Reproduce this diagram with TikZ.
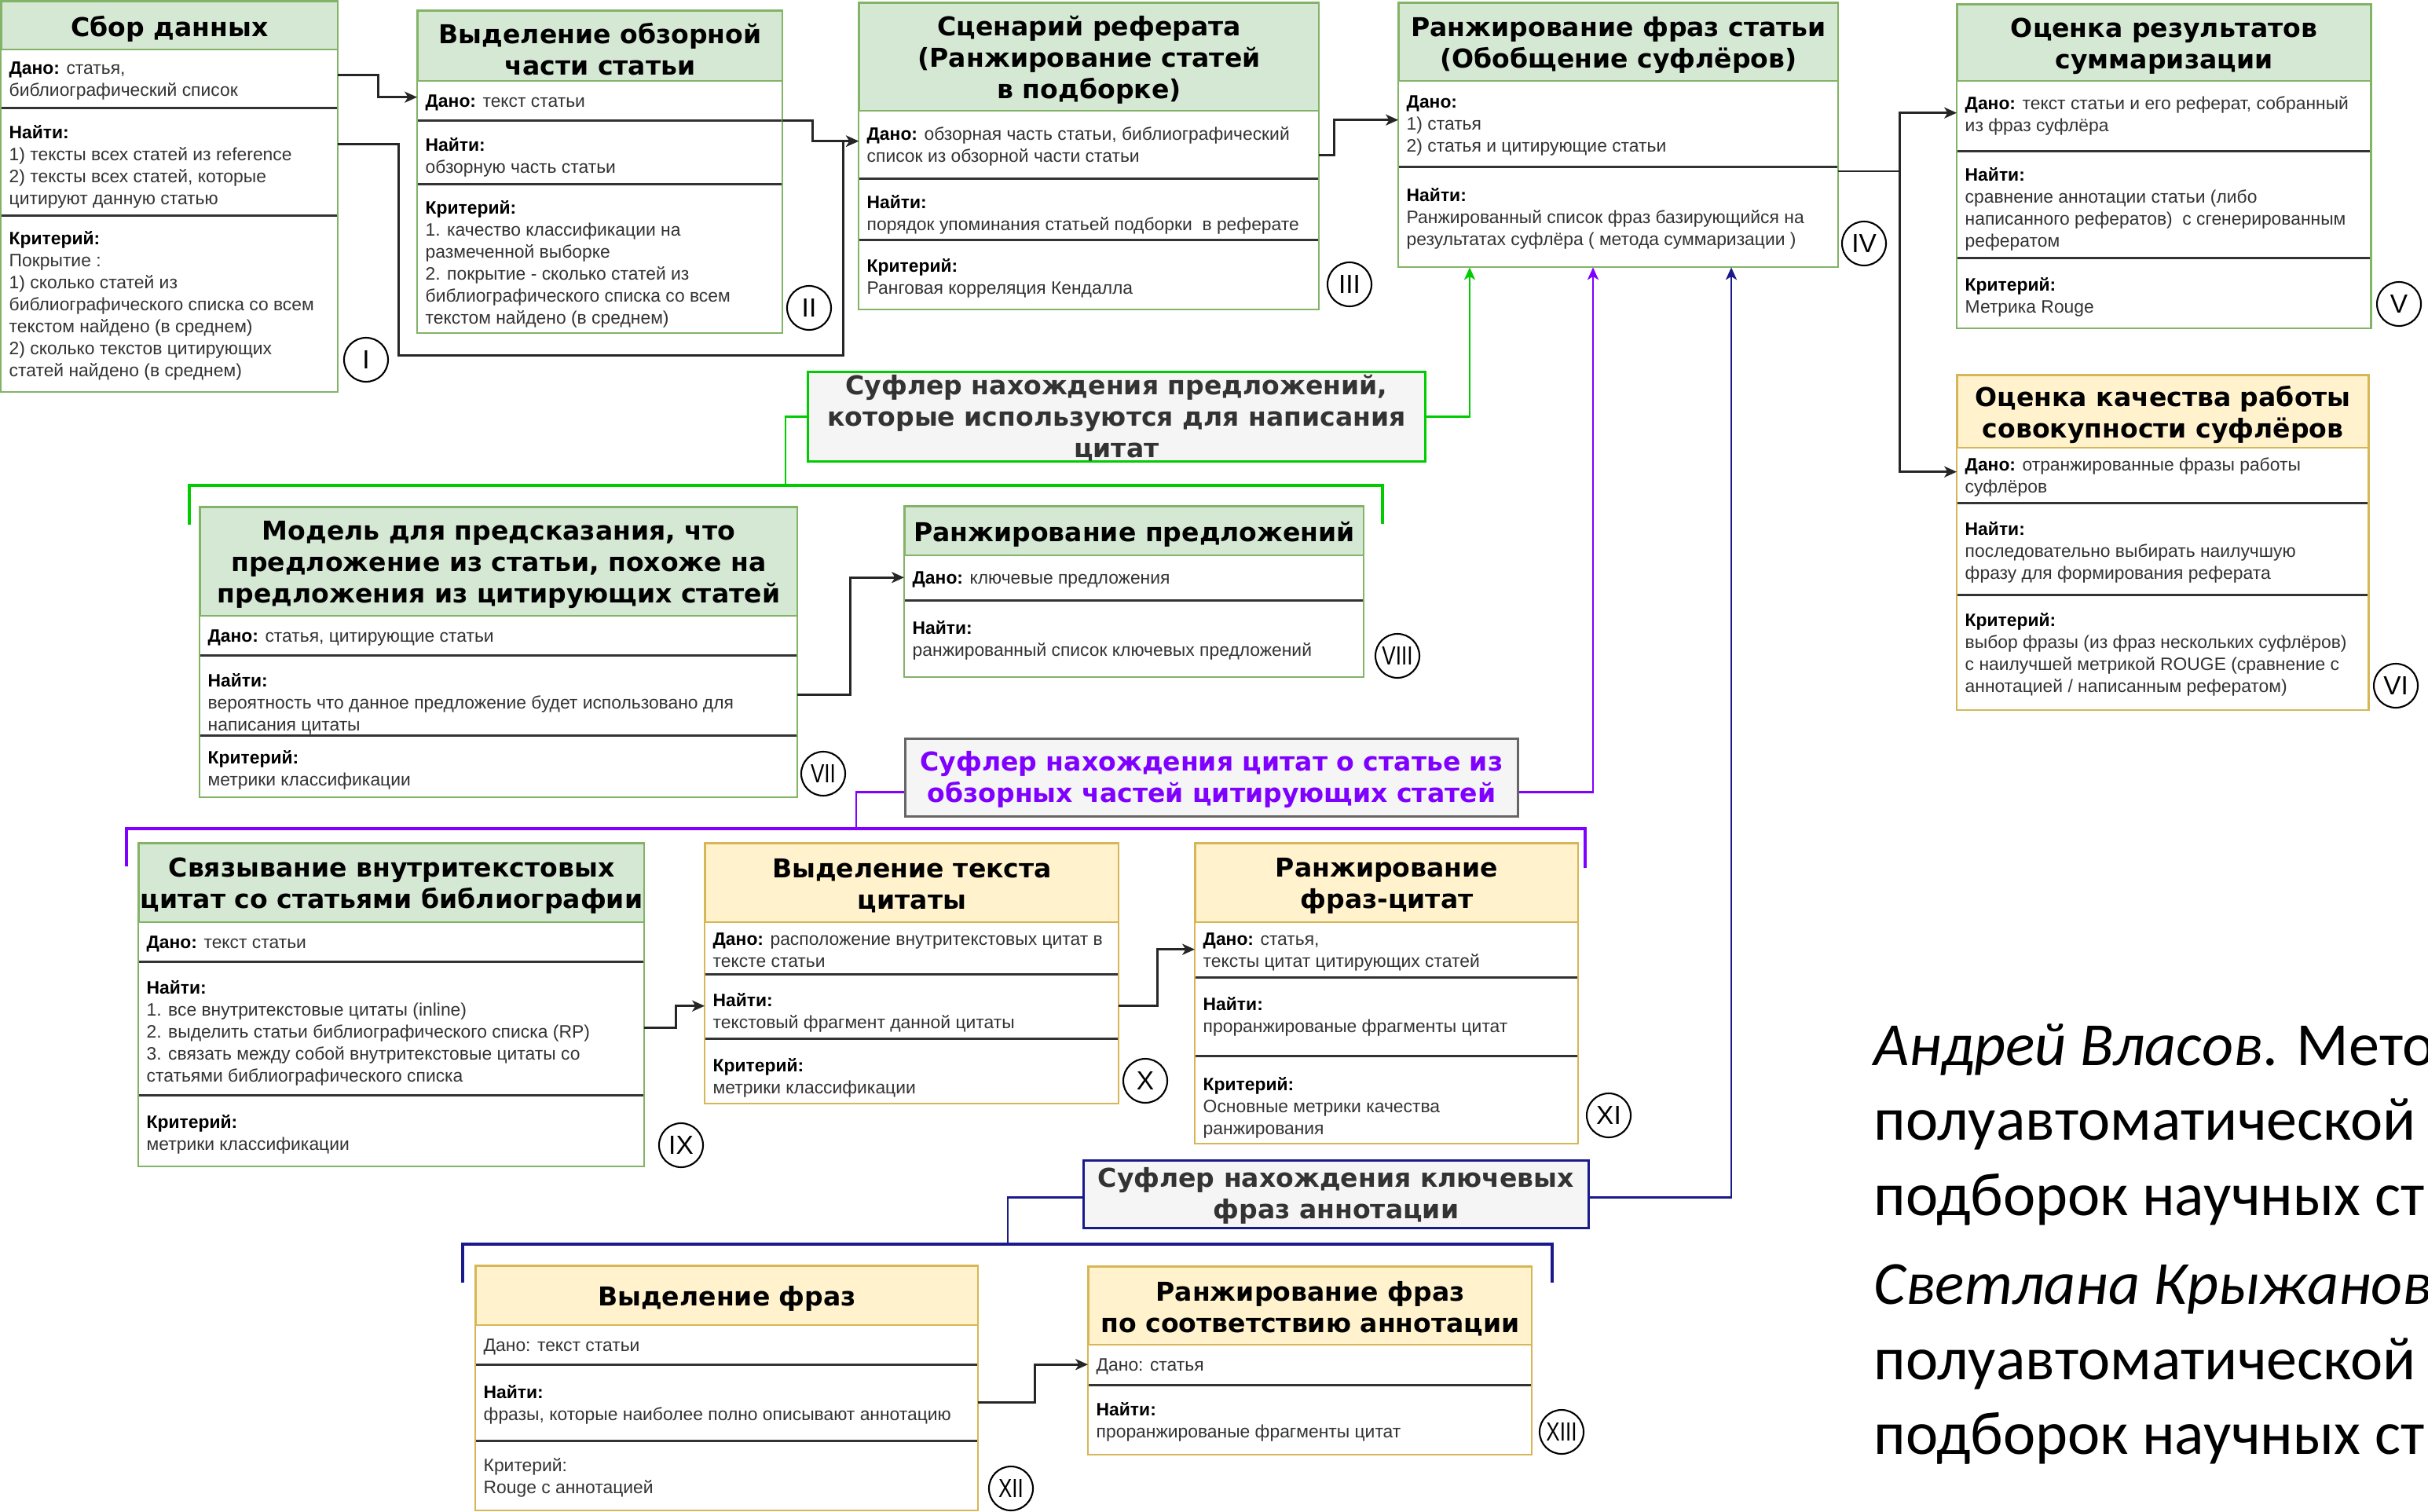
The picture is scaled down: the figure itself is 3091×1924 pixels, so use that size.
\documentclass[tikz,border=0pt]{standalone}
\usepackage{fontspec}
\usepackage{graphicx}
\setmainfont{Liberation Sans}
\newfontfamily\titlefont{DejaVu Sans}
\newfontfamily\notefont{Carlito}
\usetikzlibrary{arrows.meta}

\definecolor{grfill}{HTML}{D5E8D4}
\definecolor{grline}{HTML}{82B366}
\definecolor{yefill}{HTML}{FFF2CC}
\definecolor{yeline}{HTML}{D6B656}
\definecolor{bodygray}{HTML}{333333}
\definecolor{sfill}{HTML}{F5F5F5}
\definecolor{sline}{HTML}{666666}
\definecolor{linkgreen}{HTML}{00CC00}
\definecolor{linkpurple}{HTML}{7F00FF}
\definecolor{linknavy}{HTML}{1A1A8C}

% one drawing unit is 0.01cm
\newcommand\pxu{0.01cm}
\newcommand\lb[1]{{\bfseries\color{black}#1}}

% header strip of a card: name, style, x, y, width, height, title
\newcommand\cardhead[7]{%
  \node[#2, anchor=north west, minimum width=#5*\pxu, minimum height=#6*\pxu] (#1) at (#3,#4) {};
  \node[titletext] (#1t) at ([yshift=-4*\pxu]#1.center) {#7};}
% one section of a card: name, x, y, width, height, vertical text offset, text
\newcommand\cardsec[7]{%
  \node[secbox, anchor=north west, minimum width=#4*\pxu, minimum height=#5*\pxu] (#1) at (#2,#3) {};
  \node[bodytext, anchor=west] (#1t) at ([xshift=10*\pxu, yshift={-(#6+3)*\pxu}]#1.west) {#7};}
\newcommand\sepunder[1]{\draw[sepline] (#1.south west) -- (#1.south east);}
\newcommand\cardframe[3]{\draw[draw=#1, line width=0.6pt] (#2.north west) rectangle (#3.south east);}
\newcommand\narrow[1]{\makebox[0pt]{\scalebox{0.78}[1]{#1}}}

\tikzset{
  hdrG/.style={draw=grline, fill=grfill, line width=0.6pt, inner sep=0pt},
  hdrY/.style={draw=yeline, fill=yefill, line width=0.6pt, inner sep=0pt},
  secbox/.style={fill=white, inner sep=0pt},
  titletext/.style={font=\titlefont\bfseries\fontsize{9.4pt}{11.4pt}\selectfont, align=center, inner sep=0pt, text=black},
  bodytext/.style={font=\fontsize{6.5pt}{7.95pt}\selectfont, align=left, inner sep=0pt, text=bodygray},
  sepline/.style={draw=black!80, line width=0.8pt},
  sbox/.style={fill=sfill, line width=0.8pt, inner sep=0pt, anchor=north west},
  numc/.style={circle, draw=black, line width=0.6pt, fill=white, minimum size=56*\pxu, inner sep=0pt, font=\fontsize{9.5pt}{11pt}\selectfont},
  note/.style={font=\notefont\fontsize{22.2pt}{27pt}\selectfont, inner sep=0pt, anchor=base west, text=black},
  tipsty/.style={-{Stealth[length=4.5pt,width=4pt,inset=1.2pt]}},
  arr/.style={draw=black!85, line width=0.75pt, tipsty},
  glink/.style={draw=linkgreen, line width=0.7pt, tipsty},
  gline/.style={draw=linkgreen, line width=0.7pt},
  gbus/.style={draw=linkgreen, line width=1.2pt},
  plink/.style={draw=linkpurple, line width=0.7pt, tipsty},
  pline/.style={draw=linkpurple, line width=0.7pt},
  pbus/.style={draw=linkpurple, line width=1.2pt},
  nlink/.style={draw=linknavy, line width=0.7pt, tipsty},
  nline/.style={draw=linknavy, line width=0.7pt},
  nbus/.style={draw=linknavy, line width=1.2pt},
}

\begin{document}
\begin{tikzpicture}[x=0.01cm, y=-0.01cm]
\useasboundingbox (0,0) rectangle (3091,1924);
\clip (0,0) rectangle (3091,1924);
\fill[white] (0,0) rectangle (3091,1924);

% ---------- Сбор данных ----------
\cardsec{Ad}{1}{62}{428}{74}{0}{\lb{Дано:} статья,\\библиографический список}
\cardsec{An}{1}{136}{428}{137}{4}{\lb{Найти:}\\1) тексты всех статей из reference\\2) тексты всех статей, которые\\цитируют данную статью}
\cardsec{Ak}{1}{273}{428}{225}{0}{\lb{Критерий:}\\Покрытие :\\1) сколько статей из\\библиографического списка со всем\\текстом найдено (в среднем)\\2) сколько текстов цитирующих\\статей найдено (в среднем)}
\sepunder{Ad}\sepunder{An}
\cardhead{Ah}{hdrG}{1}{1}{428}{61}{Сбор данных}
\cardframe{grline}{Ah}{Ak}

% ---------- Выделение обзорной части ----------
\cardsec{Bd}{531}{102}{464}{50}{0}{\lb{Дано:} текст статьи}
\cardsec{Bn}{531}{152}{464}{81}{4}{\lb{Найти:}\\обзорную часть статьи}
\cardsec{Bk}{531}{233}{464}{190}{5}{\lb{Критерий:}\\1. качество классификации на\\размеченной выборке\\2. покрытие - сколько статей из\\библиографического списка со всем\\текстом найдено (в среднем)}
\sepunder{Bd}\sepunder{Bn}
\cardhead{Bh}{hdrG}{531}{13}{464}{89}{Выделение обзорной\\части статьи}
\cardframe{grline}{Bh}{Bk}

% ---------- Сценарий реферата ----------
\cardsec{Cd}{1093}{140}{585}{86}{0}{\lb{Дано:} обзорная часть статьи, библиографический\\список из обзорной части статьи}
\cardsec{Cn}{1093}{226}{585}{78}{5}{\lb{Найти:}\\порядок упоминания статьей подборки\ \ в реферате}
\cardsec{Ck}{1093}{304}{585}{89}{2}{\lb{Критерий:}\\Ранговая корреляция Кендалла}
\sepunder{Cd}\sepunder{Cn}
\cardhead{Ch}{hdrG}{1093}{3}{585}{137}{Сценарий реферата\\(Ранжирование статей\\в подборке)}
\cardframe{grline}{Ch}{Ck}

% ---------- Ранжирование фраз статьи ----------
\cardsec{Dd}{1780}{102}{559}{109}{0}{\lb{Дано:}\\1) статья\\2) статья и цитирующие статьи}
\cardsec{Dn}{1780}{211}{559}{128}{0}{\lb{Найти:}\\Ранжированный список фраз базирующийся на\\результатах суфлёра ( метода суммаризации )}
\sepunder{Dd}
\cardhead{Dh}{hdrG}{1780}{3}{559}{99}{Ранжирование фраз статьи\\(Обобщение суфлёров)}
\cardframe{grline}{Dh}{Dn}

% ---------- Оценка результатов суммаризации ----------
\cardsec{Ed}{2491}{102}{526}{89}{-3}{\lb{Дано:} текст статьи и его реферат, собранный\\из фраз суфлёра}
\cardsec{En}{2491}{191}{526}{136}{4}{\lb{Найти:}\\сравнение аннотации статьи (либо\\написанного рефератов)\ \ с сгенерированным\\рефератом}
\cardsec{Ek}{2491}{327}{526}{90}{3}{\lb{Критерий:}\\Метрика Rouge}
\sepunder{Ed}\sepunder{En}
\cardhead{Eh}{hdrG}{2491}{5}{526}{97}{Оценка результатов\\суммаризации}
\cardframe{grline}{Eh}{Ek}

% ---------- Оценка качества работы совокупности суфлёров ----------
\cardsec{Fd}{2491}{569}{523}{70}{0}{\lb{Дано:} отранжированные фразы работы\\суфлёров}
\cardsec{Fn}{2491}{639}{523}{117}{2}{\lb{Найти:}\\последовательно выбирать наилучшую\\фразу для формирования реферата}
\cardsec{Fk}{2491}{756}{523}{147}{0}{\lb{Критерий:}\\выбор фразы (из фраз нескольких суфлёров)\\с наилучшей метрикой ROUGE (сравнение с\\аннотацией / написанным рефератом)}
\sepunder{Fd}\sepunder{Fn}
\cardhead{Fh}{hdrY}{2491}{477}{523}{92}{Оценка качества работы\\совокупности суфлёров}
\cardframe{yeline}{Fh}{Fk}

% ---------- Модель для предсказания ----------
\cardsec{Gd}{254}{783}{760}{50}{0}{\lb{Дано:} статья, цитирующие статьи}
\cardsec{Gn}{254}{833}{760}{102}{9}{\lb{Найти:}\\вероятность что данное предложение будет использовано для\\написания цитаты}
\cardsec{Gk}{254}{935}{760}{79}{2}{\lb{Критерий:}\\метрики классификации}
\sepunder{Gd}\sepunder{Gn}
\cardhead{Gh}{hdrG}{254}{645}{760}{138}{Модель для предсказания, что\\предложение из статьи, похоже на\\предложения из цитирующих статей}
\cardframe{grline}{Gh}{Gk}

% ---------- Ранжирование предложений ----------
\cardsec{Hd}{1151}{706}{584}{57}{0}{\lb{Дано:} ключевые предложения}
\cardsec{Hn}{1151}{763}{584}{98}{0}{\lb{Найти:}\\ранжированный список ключевых предложений}
\sepunder{Hd}
\cardhead{Hh}{hdrG}{1151}{644}{584}{62}{Ранжирование предложений}
\cardframe{grline}{Hh}{Hn}

% ---------- Связывание внутритекстовых цитат ----------
\cardsec{Id}{176}{1173}{643}{50}{0}{\lb{Дано:} текст статьи}
\cardsec{In}{176}{1223}{643}{170}{4}{\lb{Найти:}\\1. все внутритекстовые цитаты (inline)\\2. выделить статьи библиографического списка (RP)\\3. связать между собой внутритекстовые цитаты со\\статьями библиографического списка}
\cardsec{Ik}{176}{1393}{643}{91}{2}{\lb{Критерий:}\\метрики классификации}
\sepunder{Id}\sepunder{In}
\cardhead{Ih}{hdrG}{176}{1073}{643}{100}{Связывание внутритекстовых\\цитат со статьями библиографии}
\cardframe{grline}{Ih}{Ik}

% ---------- Выделение текста цитаты ----------
\cardsec{Jd}{897}{1173}{526}{66}{0}{\lb{Дано:} расположение внутритекстовых цитат в\\тексте статьи}
\cardsec{Jn}{897}{1239}{526}{82}{6}{\lb{Найти:}\\текстовый фрагмент данной цитаты}
\cardsec{Jk}{897}{1321}{526}{83}{6}{\lb{Критерий:}\\метрики классификации}
\sepunder{Jd}\sepunder{Jn}
\cardhead{Jh}{hdrY}{897}{1073}{526}{100}{Выделение текста\\цитаты}
\cardframe{yeline}{Jh}{Jk}

% ---------- Ранжирование фраз-цитат ----------
\cardsec{Kd}{1521}{1173}{487}{70}{0}{\lb{Дано:} статья,\\тексты цитат цитирующих статей}
\cardsec{Kn}{1521}{1243}{487}{100}{-2}{\lb{Найти:}\\проранжированые фрагменты цитат}
\cardsec{Kk}{1521}{1343}{487}{112}{8}{\lb{Критерий:}\\Основные метрики качества\\ранжирования}
\sepunder{Kd}\sepunder{Kn}
\cardhead{Kh}{hdrY}{1521}{1073}{487}{100}{Ранжирование\\фраз-цитат}
\cardframe{yeline}{Kh}{Kk}

% ---------- Выделение фраз ----------
\cardsec{Ld}{605}{1686}{639}{50}{0}{Дано: текст статьи}
\cardsec{Ln}{605}{1736}{639}{97}{0}{\lb{Найти:}\\фразы, которые наиболее полно описывают аннотацию}
\cardsec{Lk}{605}{1833}{639}{89}{0}{Критерий:\\Rouge с аннотацией}
\sepunder{Ld}\sepunder{Ln}
\cardhead{Lh}{hdrY}{605}{1611}{639}{75}{Выделение фраз}
\cardframe{yeline}{Lh}{Lk}

% ---------- Ранжирование фраз по соответствию аннотации ----------
\cardsec{Md}{1385}{1711}{564}{51}{0}{Дано: статья}
\cardsec{Mn}{1385}{1762}{564}{89}{0}{\lb{Найти:}\\проранжированые фрагменты цитат}
\sepunder{Md}
\cardhead{Mh}{hdrY}{1385}{1612}{564}{99}{Ранжирование фраз\\по соответствию аннотации}
\cardframe{yeline}{Mh}{Mn}

% ---------- prompter groups ----------
\node[sbox, draw=linkgreen, minimum width=786*\pxu, minimum height=114*\pxu] (S1) at (1027,472) {};
\node[titletext, text=bodygray] (S1t) at ([yshift=-2*\pxu]S1.center) {Суфлер нахождения предложений,\\которые используются для написания\\цитат};
\node[sbox, draw=sline, minimum width=780*\pxu, minimum height=99*\pxu] (S2) at (1151,939) {};
\node[titletext, text=linkpurple] (S2t) at ([yshift=-3*\pxu]S2.center) {Суфлер нахождения цитат о статье из\\обзорных частей цитирующих статей};
\node[sbox, draw=linknavy, minimum width=643*\pxu, minimum height=86*\pxu] (S3) at (1378,1476) {};
\node[titletext, text=bodygray] (S3t) at ([yshift=-2*\pxu]S3.center) {Суфлер нахождения ключевых\\фраз аннотации};

% ---------- step numbers ----------
\node[numc] (c1) at (466,458) {\makebox[0pt]{I}};
\node[numc] (c2) at (1030,392) {\makebox[0pt]{II}};
\node[numc] (c3) at (1718,362) {\makebox[0pt]{III}};
\node[numc] (c4) at (2373,310) {\makebox[0pt]{IV}};
\node[numc] (c5) at (3054,387) {\makebox[0pt]{V}};
\node[numc] (c6) at (3050,873) {\makebox[0pt]{VI}};
\node[numc] (c7) at (1048,985) {\narrow{VII}};
\node[numc] (c8) at (1779,835) {\narrow{VIII}};
\node[numc] (c9) at (867,1458) {\makebox[0pt]{IX}};
\node[numc] (c10) at (1458,1376) {\makebox[0pt]{X}};
\node[numc] (c11) at (2048,1420) {\makebox[0pt]{XI}};
\node[numc] (c12) at (1287,1895) {\narrow{XII}};
\node[numc] (c13) at (1988,1823) {\narrow{XIII}};

% ---------- black flow arrows ----------
\draw[arr] ([yshift=4*\pxu]Ad.east) -- ++(51,0) |- ([yshift=4*\pxu]Bd.west);
\draw[arr] ([yshift=21.5*\pxu]An.east) -- ++(77,0) -- ++(0,269) -- ++(566,0) |- ([yshift=4*\pxu]Cd.west);
\draw[arr] (Bd.south east) -- ++(38,0) |- ([yshift=4*\pxu]Cd.west);
\draw[arr] ([yshift=-14*\pxu]Cd.east) -- ++(19,0) |- ([yshift=4.5*\pxu]Dd.west);
\draw[arr] ([yshift=-7*\pxu]Dn.north east) -- ++(78,0) |- ([yshift=3.5*\pxu]Ed.west);
\draw[arr] ([yshift=-7*\pxu]Dn.north east) -- ++(78,0) |- ([yshift=4*\pxu]Fd.west);
\draw[arr] (Gn.east) -- ++(67,0) |- (Hd.west);
\draw[arr] (In.east) -- ++(40,0) |- (Jn.west);
\draw[arr] (Jn.east) -- ++(49,0) |- (Kd.west);
\draw[arr] (Ln.east) -- ++(72,0) |- (Md.west);

% ---------- green group ----------
\draw[glink] (S1.east) -| ([xshift=91*\pxu]Dn.south west);
\coordinate (gjoin) at (1000,618);
\draw[gline] (S1.west) -| (gjoin);
\draw[gbus] (241,668) -- (241,618) -- (1760,618) -- (1760,667);

% ---------- purple group ----------
\draw[plink] ([yshift=-18.5*\pxu]S2.east) -| ([xshift=248*\pxu]Dn.south west);
\coordinate (pjoin) at (1090,1055);
\draw[pline] ([yshift=-18.5*\pxu]S2.west) -| (pjoin);
\draw[pbus] (161,1103) -- (161,1055) -- (2018,1055) -- (2018,1105);

% ---------- navy group ----------
\draw[nlink] ([yshift=-4*\pxu]S3.east) -| ([xshift=424*\pxu]Dn.south west);
\coordinate (njoin) at (1283,1584);
\draw[nline] ([yshift=-4*\pxu]S3.west) -| (njoin);
\draw[nbus] (589,1633) -- (589,1584) -- (1976,1584) -- (1976,1633);

% ---------- references ----------
\node[note] (n1) at (2385,1356) {\textit{Андрей Власов}. Мето};
\node[note] (n2) at (2385,1451) {полуавтоматической};
\node[note] (n3) at (2385,1547) {подборок научных ст};
\node[note] (n4) at (2385,1660) {\textit{Светлана Крыжанов}};
\node[note] (n5) at (2385,1756) {полуавтоматической};
\node[note] (n6) at (2385,1851) {подборок научных ст};
\end{tikzpicture}
\end{document}
